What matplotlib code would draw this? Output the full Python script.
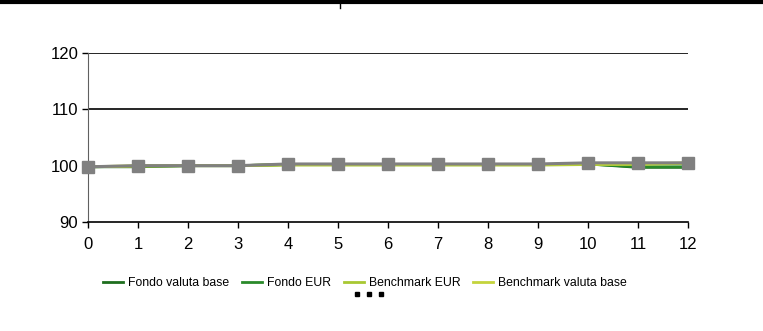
import matplotlib
matplotlib.use("Agg")
import matplotlib.pyplot as plt
from matplotlib.lines import Line2D

plt.rcParams['font.family'] = ['Liberation Sans', 'DejaVu Sans']

months = list(range(13))
fondo_valuta_base = [99.8, 99.8, 100.0, 100.0, 100.2, 100.2, 100.2, 100.2, 100.2, 100.2, 100.3, 99.7, 99.7]
fondo_eur = [99.8, 99.9, 100.0, 100.0, 100.2, 100.2, 100.2, 100.2, 100.2, 100.2, 100.3, 99.8, 99.8]
benchmark_eur = [99.8, 99.9, 100.0, 100.0, 100.1, 100.1, 100.1, 100.1, 100.1, 100.1, 100.2, 100.2, 100.4]
benchmark_valuta_base = [99.8, 100.0, 100.0, 100.0, 100.2, 100.2, 100.2, 100.2, 100.2, 100.2, 100.3, 100.3, 100.5]
gray_series = [99.8, 100.0, 100.0, 100.0, 100.3, 100.3, 100.3, 100.3, 100.3, 100.3, 100.5, 100.5, 100.5]
y_ticks = [90, 100, 110, 120]
labels = ["Fondo valuta base", "Fondo EUR", "Benchmark EUR", "Benchmark valuta base"]
colors = ["#1e6e1e", "#2a8a2a", "#a8c832", "#c4d43c"]

fig = plt.figure(figsize=(7.63, 3.31), dpi=100)
ax = fig.add_axes([88/763, 1-222/331, 600/763, 169/331])

for yv in [110, 120]:
    ax.axhline(yv, color="black", lw=1.2, zorder=1)

series = [fondo_valuta_base, fondo_eur, benchmark_eur, benchmark_valuta_base]
handles = []
for s, c, lab in zip(series, colors, labels):
    h, = ax.plot(months, s, color=c, lw=2, zorder=2, label=lab, clip_on=False)
    handles.append(h)
ax.plot(months, gray_series, color="#808080", lw=2.2, marker="s", markersize=9,
        zorder=3, clip_on=False)

ax.set_xlim(0, 12)
ax.set_ylim(90, 120)
ax.set_xticks(months)
ax.set_yticks(y_ticks)
ax.tick_params(axis="both", labelsize=12, length=4, color="black", width=1)
ax.tick_params(axis="x", pad=7)
ax.tick_params(axis="y", pad=3)
for sp in ["top", "right"]:
    ax.spines[sp].set_visible(False)
ax.spines["left"].set_color("#606060")
ax.spines["bottom"].set_color("black")
ax.spines["bottom"].set_linewidth(1.2)

fig.legend(handles=handles, labels=labels, loc="center", bbox_to_anchor=(0.478, 1-283/331),
           ncol=4, frameon=False, fontsize=8.8, handlelength=1.65, columnspacing=1.05,
           handletextpad=0.4)

# decorations: top border and small dots
fig.add_artist(Line2D([0, 1], [1-1.5/331, 1-1.5/331], color="black", lw=3, transform=fig.transFigure))
fig.add_artist(Line2D([340/763, 340/763], [1, 1-8/331], color="black", lw=1, transform=fig.transFigure))
fig.add_artist(Line2D([357/763, 369/763, 381/763], [1-294/331]*3, color="black", lw=0,
                      marker="s", markersize=2.5, transform=fig.transFigure))

fig.savefig("out.png", dpi=100)
